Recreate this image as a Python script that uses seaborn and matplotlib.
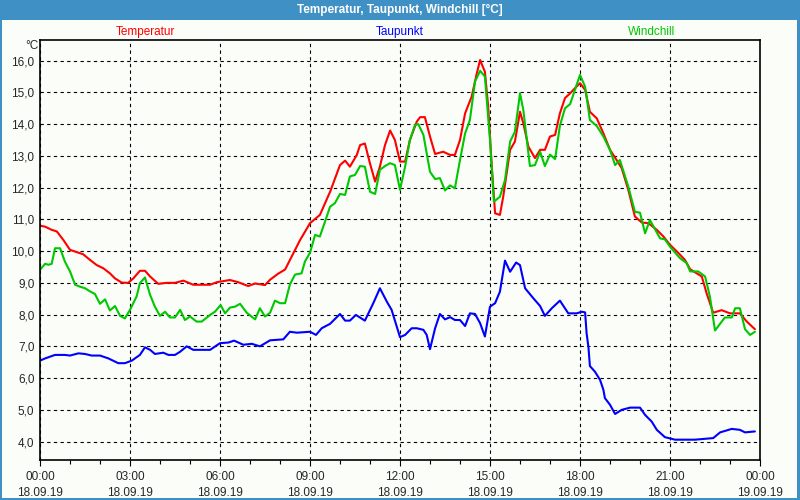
import matplotlib
matplotlib.use("Agg")
import matplotlib.pyplot as plt
import pandas as pd
import seaborn as sns
from matplotlib.patches import Rectangle
from matplotlib.ticker import FixedLocator

# hours since 18.09.19 00:00, values in degC
temp_hours = [0, 0.17, 0.39, 0.56, 0.78, 1.0, 1.22, 1.44, 1.67, 1.89, 2.11, 2.33, 2.5, 2.72, 2.94,
              3.11, 3.33, 3.5, 3.67, 3.94, 4.22, 4.5, 4.78, 5.11, 5.67, 5.89, 6.33, 6.61, 6.94, 7.17,
              7.5, 7.67, 7.94, 8.17, 8.39, 8.67, 9.0, 9.33, 9.67, 10.0, 10.17, 10.33, 10.56, 10.67,
              10.83, 11.0, 11.17, 11.33, 11.5, 11.67, 11.83, 12.0, 12.17, 12.33, 12.56, 12.67, 12.83,
              13.0, 13.17, 13.44, 13.67, 13.83, 14.0, 14.17, 14.39, 14.56, 14.67, 14.83, 14.94, 15.06,
              15.17, 15.33, 15.44, 15.67, 15.83, 16.0, 16.11, 16.28, 16.5, 16.67, 16.83, 17.0, 17.17,
              17.33, 17.5, 17.67, 17.83, 18.0, 18.17, 18.33, 18.56, 18.78, 19.0, 19.22, 19.39, 19.61,
              19.83, 20.06, 20.28, 20.56, 20.78, 21.0, 21.28, 21.5, 21.67, 21.89, 22.06, 22.22, 22.44,
              22.72, 23.0, 23.33, 23.56, 23.83]
temperatur = [10.8, 10.77, 10.67, 10.62, 10.35, 10.04, 9.97, 9.9, 9.72, 9.56, 9.46, 9.3, 9.14, 9.01, 9.0,
              9.14, 9.38, 9.38, 9.2, 8.97, 9.0, 9.0, 9.07, 8.94, 8.94, 9.02, 9.09, 9.02, 8.9, 8.98,
              8.93, 9.1, 9.29, 9.42, 9.83, 10.35, 10.88, 11.14, 11.87, 12.71, 12.85, 12.66, 13.03, 13.34,
              13.39, 12.76, 12.19, 12.66, 13.34, 13.8, 13.5, 12.82, 12.82, 13.5, 14.08, 14.22, 14.22,
              13.61, 13.06, 13.13, 13.03, 13.03, 13.5, 14.34, 14.87, 15.6, 16.02, 15.65, 14.55, 12.66,
              11.19, 11.14, 11.71, 13.19, 13.45, 14.39, 14.03, 13.29, 12.93, 13.19, 13.19, 13.61, 13.66,
              14.34, 14.82, 14.97, 15.13, 15.29, 15.08, 14.39, 14.18, 13.71, 13.19, 12.87, 12.61, 11.93,
              11.09, 10.9, 10.88, 10.67, 10.46, 10.2, 9.94, 9.72, 9.43, 9.3, 9.2, 8.67, 8.06,
              8.14, 8.04, 8.04, 7.78, 7.54]

dew_hours = [0, 0.17, 0.5, 0.83, 1.0, 1.28, 1.5, 1.72, 2.0, 2.28, 2.61, 2.83, 3.06, 3.33, 3.5, 3.67,
             3.83, 4.11, 4.28, 4.5, 4.67, 4.89, 5.11, 5.67, 6.0, 6.28, 6.47, 6.78, 7.06, 7.33, 7.67,
             8.11, 8.33, 8.56, 9.0, 9.2, 9.39, 9.67, 10.0, 10.17, 10.33, 10.53, 10.83, 11.11, 11.33,
             11.56, 11.72, 12.0, 12.17, 12.39, 12.56, 12.78, 12.89, 13.0, 13.17, 13.33, 13.5, 13.67,
             13.83, 14.0, 14.17, 14.33, 14.5, 14.67, 14.83, 15.0, 15.17, 15.33, 15.5, 15.67, 15.87,
             16.0, 16.17, 16.44, 16.67, 16.83, 17.06, 17.33, 17.61, 17.89, 18.06, 18.17, 18.22, 18.28,
             18.33, 18.5, 18.67, 18.78, 18.83, 19.0, 19.17, 19.39, 19.67, 20.0, 20.17, 20.39, 20.56,
             20.83, 21.17, 21.83, 22.44, 22.67, 23.06, 23.33, 23.5, 23.83]
taupunkt = [6.55, 6.62, 6.73, 6.73, 6.71, 6.78, 6.76, 6.71, 6.71, 6.62, 6.47, 6.47, 6.55, 6.73, 6.97, 6.89,
            6.76, 6.8, 6.73, 6.73, 6.83, 7.0, 6.89, 6.89, 7.1, 7.12, 7.18, 7.05, 7.08, 7.0, 7.19,
            7.22, 7.46, 7.43, 7.46, 7.36, 7.57, 7.71, 8.02, 7.81, 7.81, 7.99, 7.81, 8.36, 8.83,
            8.41, 8.15, 7.29, 7.36, 7.57, 7.57, 7.52, 7.36, 6.91, 7.57, 8.02, 7.85, 7.92,
            7.83, 7.83, 7.64, 8.04, 8.02, 7.73, 7.31, 8.25, 8.36, 8.72, 9.7, 9.35, 9.64,
            9.56, 8.83, 8.52, 8.27, 7.96, 8.2, 8.44, 8.04, 8.04, 8.09, 8.07, 7.41, 6.99,
            6.38, 6.2, 5.94, 5.63, 5.37, 5.16, 4.87, 5.0, 5.07, 5.07, 4.84, 4.63, 4.37,
            4.14, 4.06, 4.06, 4.11, 4.29, 4.4, 4.37, 4.29, 4.32]

chill_hours = [0, 0.17, 0.28, 0.39, 0.5, 0.67, 0.83, 1.0, 1.17, 1.33, 1.5, 1.67, 1.83, 2.0, 2.17, 2.33,
               2.5, 2.67, 2.83, 3.0, 3.22, 3.33, 3.5, 3.67, 3.83, 4.0, 4.17, 4.33, 4.5, 4.67, 4.83,
               5.0, 5.22, 5.39, 5.67, 5.83, 6.02, 6.17, 6.33, 6.5, 6.67, 6.89, 7.17, 7.33, 7.5, 7.67,
               7.83, 8.0, 8.17, 8.33, 8.5, 8.72, 8.83, 9.0, 9.17, 9.33, 9.5, 9.67, 9.83, 10.0, 10.17,
               10.33, 10.5, 10.67, 10.83, 11.0, 11.17, 11.33, 11.5, 11.67, 11.83, 12.0, 12.17, 12.33,
               12.5, 12.61, 12.78, 13.0, 13.17, 13.33, 13.5, 13.67, 13.83, 14.0, 14.17, 14.33, 14.5,
               14.67, 14.83, 15.0, 15.13, 15.33, 15.5, 15.67, 15.83, 16.0, 16.11, 16.33, 16.5, 16.67,
               16.83, 17.0, 17.17, 17.33, 17.5, 17.67, 17.83, 18.0, 18.17, 18.33, 18.56, 18.78, 19.0,
               19.17, 19.33, 19.61, 19.83, 20.0, 20.17, 20.33, 20.67, 20.83, 21.0, 21.33, 21.56, 21.67,
               21.94, 22.17, 22.33, 22.5, 22.83, 23.06, 23.17, 23.33, 23.5, 23.67, 23.83]
windchill = [9.41, 9.6, 9.57, 9.6, 10.09, 10.09, 9.67, 9.36, 8.94, 8.88, 8.83, 8.73, 8.65, 8.34, 8.48, 8.13,
             8.27, 7.96, 7.88, 8.15, 8.57, 8.99, 9.17, 8.62, 8.25, 7.96, 8.09, 7.91, 7.91, 8.15, 7.83,
             7.94, 7.78, 7.78, 7.99, 8.09, 8.3, 8.04, 8.22, 8.25, 8.34, 8.06, 7.85, 8.2, 7.94, 8.06,
             8.44, 8.36, 8.36, 8.95, 9.26, 9.3, 9.67, 9.95, 10.51, 10.46, 10.93, 11.4, 11.51, 11.8, 11.77,
             12.35, 12.4, 12.68, 12.66, 11.87, 11.8, 12.56, 12.68, 12.77, 12.71, 11.93, 12.66, 13.5,
             13.97, 14.0, 13.66, 12.5, 12.27, 12.3, 11.91, 12.07, 11.98, 12.87, 13.71, 14.13, 15.34,
             15.68, 15.5, 13.5, 11.56, 11.71, 12.24, 13.45, 13.76, 14.97, 14.45, 12.68, 12.71, 13.13,
             12.68, 13.04, 12.9, 13.95, 14.5, 14.63, 15.08, 15.55, 15.18, 14.13, 13.94, 13.61, 13.19,
             12.71, 12.87, 12.03, 11.24, 11.21, 10.56, 10.98, 10.4, 10.37, 10.14, 9.78, 9.62, 9.36,
             9.36, 9.2, 8.57, 7.5, 7.91, 7.91, 8.2, 8.2, 7.54, 7.36, 7.46]

series_names = ["Temperatur", "Taupunkt", "Windchill"]
series_colors = ["#ff0000", "#0000ff", "#00c800"]
tick_hours = [0, 3, 6, 9, 12, 15, 18, 21, 24]
tick_labels = ["00:00\n18.09.19", "03:00\n18.09.19", "06:00\n18.09.19", "09:00\n18.09.19",
               "12:00\n18.09.19", "15:00\n18.09.19", "18:00\n18.09.19", "21:00\n18.09.19",
               "00:00\n19.09.19"]
y_ticks = [4, 5, 6, 7, 8, 9, 10, 11, 12, 13, 14, 15, 16]

df = pd.concat([
    pd.DataFrame({"hour": temp_hours, "value": temperatur, "series": "Temperatur"}),
    pd.DataFrame({"hour": dew_hours, "value": taupunkt, "series": "Taupunkt"}),
    pd.DataFrame({"hour": chill_hours, "value": windchill, "series": "Windchill"}),
], ignore_index=True)

sns.set_theme(style="white")
plt.rcParams["font.family"] = ["Liberation Sans", "DejaVu Sans"]

frame_blue = "#3f91c5"
bg = "#fbfdf9"

fig = plt.figure(figsize=(8, 5), dpi=100, facecolor=frame_blue)
# light client area inside the blue window frame
fig.patches.append(Rectangle((2 / 800, 2 / 500), 795 / 800, 478 / 500,
                             transform=fig.transFigure, facecolor=bg, edgecolor="none", zorder=-10))
ax = fig.add_axes([40 / 800, 40 / 500, 720 / 800, 420 / 500])
ax.set_facecolor(bg)

sns.lineplot(data=df, x="hour", y="value", hue="series", hue_order=series_names,
             palette=series_colors, estimator=None, sort=False, linewidth=1.5,
             legend=False, ax=ax)

ax.set_xlim(0, 24)
ax.set_ylim(3.42, 16.65)
ax.set_xticks(tick_hours)
ax.set_xticklabels(tick_labels, fontsize=8.5, linespacing=1.45)
ax.xaxis.set_minor_locator(FixedLocator(range(25)))
ax.set_yticks(y_ticks)
ax.set_yticklabels([f"{v},0" for v in y_ticks], fontsize=8.5)
ax.tick_params(axis="x", which="major", length=4, width=0.8, color="black", pad=4, bottom=True)
ax.tick_params(axis="x", which="minor", length=3, width=0.8, color="black", bottom=True)
ax.tick_params(axis="y", length=0, pad=4)
ax.set_xlabel("")
ax.set_ylabel("")

ax.grid(True, which="major", color="black", linestyle=(0, (3, 3)), linewidth=0.8)
for side in ["left", "right", "top", "bottom"]:
    ax.spines[side].set_visible(True)
    ax.spines[side].set_color("black")
    ax.spines[side].set_linewidth(1.2)

fig.text(0.5, 1 - 10 / 500, "Temperatur, Taupunkt, Windchill [°C]", color="white",
         fontsize=8.5, fontweight="bold", ha="center", va="center")
for name, color, xc in zip(series_names, series_colors, [145, 400, 652]):
    fig.text(xc / 800, 1 - 32 / 500, name, color=color, fontsize=8.5, ha="center", va="center")
fig.text(32 / 800, 1 - 46 / 500, "°C", fontsize=8.5, ha="center", va="center")

fig.savefig("out.png", dpi=100, facecolor=frame_blue)
